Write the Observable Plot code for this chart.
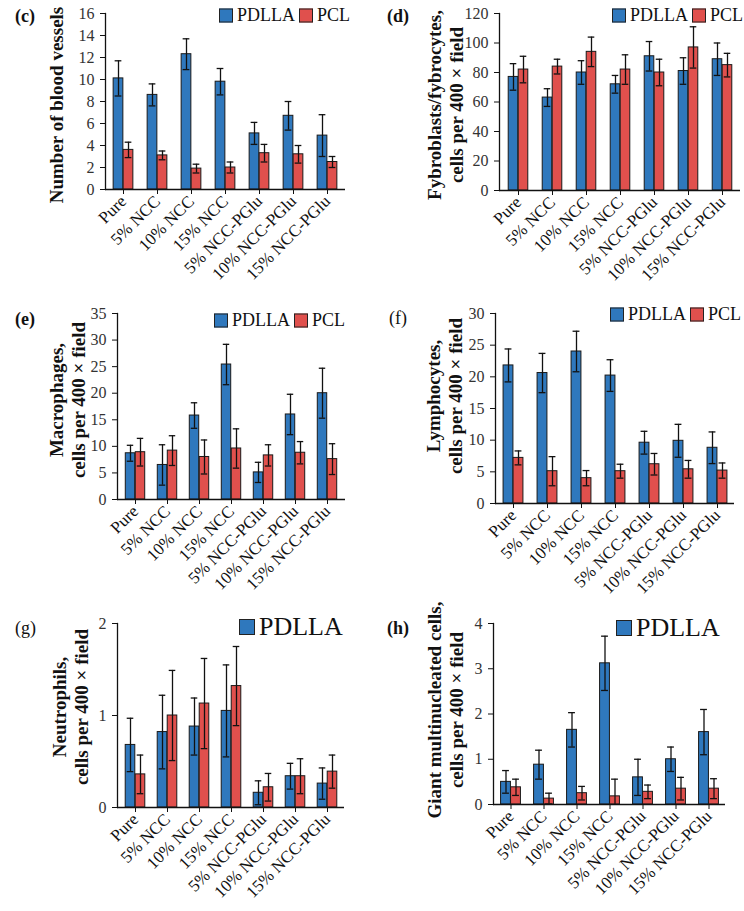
<!DOCTYPE html>
<html><head><meta charset="utf-8">
<script src="https://cdn.jsdelivr.net/npm/d3@7"></script>
<script src="https://cdn.jsdelivr.net/npm/@observablehq/plot@0.6"></script>
<style>
body{margin:0;background:#fff;}
#wrap{position:relative;width:744px;height:911px;font-family:"Liberation Serif",serif;color:#111;overflow:hidden;}
.panel{position:absolute;}
.panel svg{background:none !important;overflow:visible;}
.plbl{position:absolute;font-size:18px;transform:translateY(-50%);}
.ylab{position:absolute;font-weight:bold;font-size:19px;line-height:22px;text-align:center;white-space:nowrap;transform:translate(-50%,-50%) rotate(-90deg);}
.leg{position:absolute;display:flex;align-items:center;white-space:nowrap;transform:translateY(-50%);}
.sw{display:inline-block;width:12px;height:12px;border:1px solid #222;margin-right:4px;}
</style></head><body><div id="wrap"></div>
<script>
const categories = ["Pure","5% NCC","10% NCC","15% NCC","5% NCC-PGlu","10% NCC-PGlu","15% NCC-PGlu"];
const seriesNames = ["PDLLA","PCL"];
const seriesColors = ["#2f78bd","#e0504d"];

// (c) Number of blood vessels
const vesselsPDLLA = [10.1,8.6,12.3,9.8,5.1,6.7,4.9];
const vesselsPDLLAErr = [1.6,1.0,1.4,1.2,1.0,1.3,1.9];
const vesselsPCL = [3.6,3.1,1.9,2.0,3.3,3.2,2.5];
const vesselsPCLErr = [0.7,0.4,0.4,0.5,0.8,0.8,0.5];
const vesselsTicks = [0,2,4,6,8,10,12,14,16];

// (d) Fybroblasts/fybrocytes
const fibroPDLLA = [77,63,80,72,91,81,89];
const fibroPDLLAErr = [9,6,8,6,10,9,11];
const fibroPCL = [82,84,94,82,80,97,85];
const fibroPCLErr = [9,5,10,10,9,14,8];
const fibroTicks = [0,20,40,60,80,100,120];

// (e) Macrophages
const macroPDLLA = [8.7,6.5,15.8,25.4,5.1,16.0,20.0];
const macroPDLLAErr = [1.5,3.8,2.4,3.8,1.9,3.8,4.7];
const macroPCL = [8.9,9.2,8.0,9.6,8.3,8.8,7.6];
const macroPCLErr = [2.6,2.8,3.2,3.7,2.0,2.1,2.9];
const macroTicks = [0,5,10,15,20,25,30,35];

// (f) Lymphocytes
const lymphoPDLLA = [21.8,20.6,24.0,20.2,9.6,9.9,8.8];
const lymphoPDLLAErr = [2.6,3.1,3.2,2.5,1.8,2.6,2.5];
const lymphoPCL = [7.2,5.1,4.0,5.1,6.2,5.4,5.2];
const lymphoPCLErr = [1.1,2.3,1.2,1.1,1.7,1.4,1.2];
const lymphoTicks = [0,5,10,15,20,25,30];

// (g) Neutrophils
const neutroPDLLA = [0.68,0.82,0.88,1.05,0.16,0.34,0.26];
const neutroPDLLAErr = [0.29,0.40,0.31,0.50,0.13,0.14,0.17];
const neutroPCL = [0.36,1.0,1.13,1.32,0.22,0.34,0.39];
const neutroPCLErr = [0.21,0.49,0.49,0.43,0.15,0.19,0.18];
const neutroTicks = [0,1,2];

// (h) Giant multinucleated cells
const giantPDLLA = [0.5,0.88,1.65,3.12,0.6,1.0,1.6];
const giantPDLLAErr = [0.25,0.32,0.38,0.6,0.4,0.27,0.5];
const giantPCL = [0.38,0.13,0.25,0.18,0.28,0.35,0.35];
const giantPCLErr = [0.18,0.12,0.15,0.38,0.15,0.25,0.22];
const giantTicks = [0,1,2,3,4];

const wrap = document.getElementById("wrap");

function addDiv(cls, html, style){
  const d = document.createElement("div");
  d.className = cls; d.innerHTML = html;
  Object.assign(d.style, style);
  wrap.appendChild(d);
  return d;
}

function panel(o){
  const rows = categories.map((c,i)=>({cat:c, a:o.a[i], ae:o.ae[i], b:o.b[i], be:o.be[i]}));
  const ymax = o.ticks[o.ticks.length-1];
  const bw = (o.right - o.axisX)/categories.length;
  const W = 10; // bar width
  const cap = 7;
  const mL = o.axisX - o.px, mT = o.top - o.py, mR = 372 - (o.right - o.px);
  const mB = 110;
  const H = (o.bottom - o.py) + mB;
  const lo = v => Math.max(0, v);
  const chart = Plot.plot({
    width: 372, height: H,
    marginLeft: mL, marginTop: mT, marginRight: mR, marginBottom: mB,
    style: {fontFamily: '"Liberation Serif", serif', fontSize: "16px", color: "#222", background: "none", overflow: "visible"},
    x: {type: "band", domain: categories, padding: 0, label: null},
    y: {domain: [0, ymax], label: null},
    marks: [
      Plot.barY(rows, {x: "cat", y: "a", fill: seriesColors[0], stroke: "#1a1a1a", strokeWidth: 1,
        insetLeft: (bw - 2*W)/2, insetRight: (bw - 2*W)/2 + W}),
      Plot.barY(rows, {x: "cat", y: "b", fill: seriesColors[1], stroke: "#1a1a1a", strokeWidth: 1,
        insetLeft: bw/2, insetRight: (bw - 2*W)/2}),
      Plot.ruleX(rows, {x: "cat", y1: d => lo(d.a - d.ae), y2: d => d.a + d.ae, dx: -W/2, stroke: "#111", strokeWidth: 1.3}),
      Plot.ruleX(rows, {x: "cat", y1: d => lo(d.b - d.be), y2: d => d.b + d.be, dx: W/2, stroke: "#111", strokeWidth: 1.3}),
      Plot.tickY(rows, {x: "cat", y: d => d.a + d.ae, dx: -W/2, inset: (bw - cap)/2, stroke: "#111", strokeWidth: 1.3}),
      Plot.tickY(rows.filter(d => d.a - d.ae > 0), {x: "cat", y: d => d.a - d.ae, dx: -W/2, inset: (bw - cap)/2, stroke: "#111", strokeWidth: 1.3}),
      Plot.tickY(rows, {x: "cat", y: d => d.b + d.be, dx: W/2, inset: (bw - cap)/2, stroke: "#111", strokeWidth: 1.3}),
      Plot.tickY(rows.filter(d => d.b - d.be > 0), {x: "cat", y: d => d.b - d.be, dx: W/2, inset: (bw - cap)/2, stroke: "#111", strokeWidth: 1.3}),
      Plot.frame({anchor: "left", stroke: "#111", strokeWidth: 1.3}),
      Plot.ruleY([0], {stroke: "#111", strokeWidth: 1.5}),
      Plot.axisY({ticks: o.ticks, tickFormat: d => String(d), tickSize: 5, tickPadding: 6, label: null, fontSize: 16, stroke: "#111", fill: "#333"}),
      Plot.axisX({tickRotate: -45, tickSize: 5, tickPadding: 4, label: null, fontSize: 17, stroke: "#111", fill: "#111"})
    ]
  });
  const holder = document.createElement("div");
  holder.className = "panel";
  holder.style.left = o.px + "px"; holder.style.top = o.py + "px";
  holder.appendChild(chart);
  wrap.appendChild(holder);

  addDiv("plbl", o.tag, {left: o.tagX + "px", top: o.tagY + "px", fontWeight: o.tagBold ? "bold" : "normal"});
  addDiv("ylab", o.ylabel, {left: o.ylX + "px", top: o.ylY + "px"});
  // legend
  let lh = "";
  o.legend.forEach(i => {
    lh += `<span class="sw" style="background:${seriesColors[i]};width:${o.legSw}px;height:${o.legSw}px"></span><span style="margin-right:4px">${seriesNames[i]}</span>`;
  });
  addDiv("leg", lh, {left: o.legX + "px", top: o.legY + "px", fontSize: o.legFont + "px"});
}

panel({px:0, py:0, axisX:105, right:345, top:13, bottom:189, a:vesselsPDLLA, ae:vesselsPDLLAErr, b:vesselsPCL, be:vesselsPCLErr, ticks:vesselsTicks,
  tag:"(c)", tagX:15, tagY:16, tagBold:true, ylabel:"Number of blood vessels", ylX:57, ylY:105,
  legend:[0,1], legX:219, legY:15, legFont:18, legSw:12});
panel({px:372, py:0, axisX:499, right:740, top:13, bottom:190, a:fibroPDLLA, ae:fibroPDLLAErr, b:fibroPCL, be:fibroPCLErr, ticks:fibroTicks,
  tag:"(d)", tagX:387, tagY:16, tagBold:true, ylabel:"Fybroblasts/fybrocytes,<br>cells per 400 × field", ylX:446, ylY:105,
  legend:[0,1], legX:612, legY:15, legFont:18, legSw:12});
panel({px:0, py:290, axisX:117, right:345, top:313, bottom:499, a:macroPDLLA, ae:macroPDLLAErr, b:macroPCL, be:macroPCLErr, ticks:macroTicks,
  tag:"(e)", tagX:15, tagY:319, tagBold:true, ylabel:"Macrophages,<br>cells per 400 × field", ylX:68, ylY:400,
  legend:[0,1], legX:214, legY:320, legFont:18, legSw:12});
panel({px:372, py:290, axisX:495, right:734, top:313, bottom:503, a:lymphoPDLLA, ae:lymphoPDLLAErr, b:lymphoPCL, be:lymphoPCLErr, ticks:lymphoTicks,
  tag:"(f)", tagX:389, tagY:318, tagBold:false, ylabel:"Lymphocytes,<br>cells per 400 × field", ylX:445, ylY:396,
  legend:[0,1], legX:610, legY:314, legFont:18, legSw:12});
panel({px:0, py:580, axisX:117, right:344, top:623, bottom:807, a:neutroPDLLA, ae:neutroPDLLAErr, b:neutroPCL, be:neutroPCLErr, ticks:neutroTicks,
  tag:"(g)", tagX:15, tagY:628, tagBold:false, ylabel:"Neutrophils,<br>cells per 400 × field", ylX:71, ylY:707,
  legend:[0], legX:239, legY:627, legFont:26, legSw:14});
panel({px:372, py:580, axisX:493, right:725, top:623, bottom:804, a:giantPDLLA, ae:giantPDLLAErr, b:giantPCL, be:giantPCLErr, ticks:giantTicks,
  tag:"(h)", tagX:387, tagY:628, tagBold:true, ylabel:"Giant multinucleated cells,<br>cells per 400 × field", ylX:446, ylY:710,
  legend:[0], legX:616, legY:628, legFont:26, legSw:14});
</script></body></html>
